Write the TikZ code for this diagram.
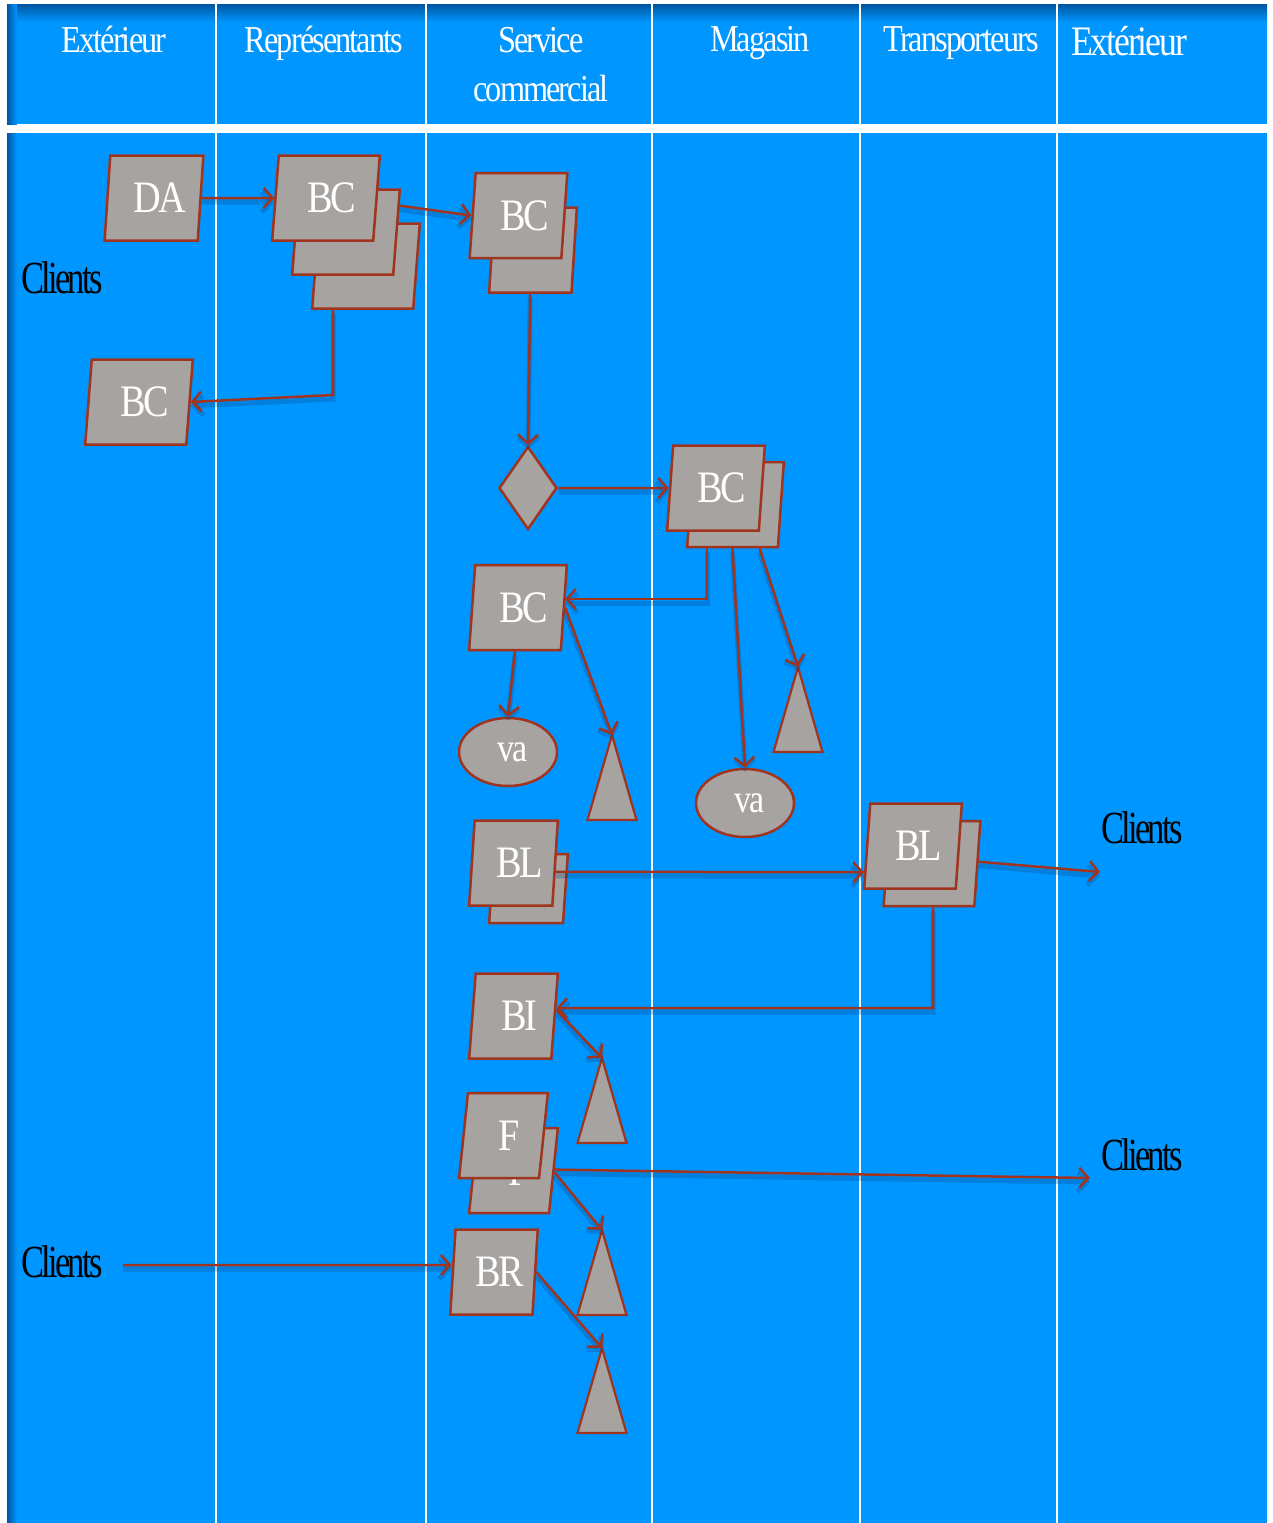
\documentclass[tikz,border=0pt]{standalone}
\usepackage{fontspec}
\usetikzlibrary{shapes.geometric, arrows.meta, calc}
\newfontfamily\cf[FakeStretch=0.85,LetterSpace=-5]{Liberation Serif}
\newfontfamily\cfc[FakeStretch=0.75,LetterSpace=-6]{Liberation Serif}
\definecolor{bg}{RGB}{0,150,255}
\definecolor{bgdark}{RGB}{0,85,160}
\definecolor{cardgray}{RGB}{166,163,161}
\definecolor{edgered}{RGB}{160,52,30}
\definecolor{shadowblue}{RGB}{0,60,120}
\newcommand\mytri[1]{\draw[tri] (#1) -- ++(24.5,85) -- ++(-49,0) -- cycle;}
\begin{document}
\begin{tikzpicture}[x=1pt,y=-1pt,
  card/.style={trapezium, trapezium left angle=82, trapezium right angle=98,
    trapezium stretches=true, minimum height=85pt, minimum width=#1,
    fill=cardgray, draw=edgered, line width=2.5pt, inner sep=0pt, text=white,
    font=\cf\fontsize{45}{45}\selectfont, execute at begin node={\hspace*{12pt}}},
  card/.default=98pt,
  head/.style={text=white, anchor=base, inner sep=0pt, font=\cf\fontsize{38}{38}\selectfont},
  clients/.style={text=black, inner sep=0pt, font=\cfc\fontsize{46}{46}\selectfont},
  oval/.style={ellipse, minimum width=98pt, minimum height=68pt, inner sep=0pt,
    fill=cardgray, draw=edgered, line width=2.5pt, text=white,
    font=\cf\fontsize{40}{40}\selectfont, execute at begin node={\hspace*{10pt}}},
  tri/.style={fill=cardgray, draw=edgered, line width=2.2pt},
  arr/.style={draw=edgered, line width=2.5pt, -{Straight Barb[length=9pt,width=20pt]},
    preaction={draw=shadowblue, draw opacity=0.25, line width=5pt, transform canvas={yshift=-4pt}}},
  sep/.style={draw=white, line width=2pt}
]
\useasboundingbox (0,0) rectangle (1272,1523);
\fill[white] (0,0) rectangle (1272,1523);
% header and body
\fill[bg] (7,4) rectangle (1267,124);
\fill[bg] (7,133) rectangle (1267,1523);
\shade[top color=bgdark, bottom color=bg] (7,4) rectangle (1267,22);
\shade[left color=bgdark, right color=bg] (7,4) rectangle (17,124);
\shade[left color=bgdark, right color=bg] (7,133) rectangle (17,1523);
% separators
\foreach \x in {216,426,652,860,1057}{
  \draw[sep] (\x,4) -- (\x,124);
  \draw[sep] (\x,133) -- (\x,1523);
}
% headers
\node[head] (h1) at (114,52) {Extérieur};
\node[head] (h2) at (324,52) {Représentants};
\node[head] (h3a) at (541,52) {Service};
\node[head] (h3b) at (541,101) {commercial};
\node[head] (h4) at (760,51) {Magasin};
\node[head] (h5) at (961,51) {Transporteurs};
\node[head, font=\cf\fontsize{42}{42}\selectfont] (h6) at (1129,55) {Extérieur};
% clients
\node[clients] (cl1) at (62,278) {Clients};
\node[clients] (cl2) at (1142,828) {Clients};
\node[clients] (cl3) at (1142,1155) {Clients};
\node[clients] (cl4) at (62,1262) {Clients};
% cards
\node[card=99pt] (da) at (154,198) {DA};
\node[card=108pt] (bcR3) at (366,266) {\phantom{BC}};
\node[card=108pt] (bcR2) at (346,232) {\phantom{BC}};
\node[card=108pt] (bcR1) at (326,198) {BC};
\node[card=108pt] (bcC) at (139,402) {BC};
\node[card=88pt] (bcS2) at (533,250) {\phantom{BC}};
\node[card=98pt] (bcS1) at (518.5,215.5) {BC};
\node[diamond, minimum width=58pt, minimum height=83pt, inner sep=0pt,
  fill=cardgray, draw=edgered, line width=2.5pt] (dia) at (528,488) {};
\node[card=97pt] (bcM2) at (735.5,504.5) {\phantom{BC}};
\node[card=98pt] (bcM1) at (716,488) {BC};
\node[card=98pt] (bcS3) at (518,607.5) {BC};
\node[oval] (va1) at (508,752) {va};
\node[oval] (va2) at (745,803) {va};
\node[card=79pt, minimum height=69pt] (blS2) at (528.5,888.5) {\phantom{BL}};
\node[card=89pt] (blS1) at (513.5,863) {BL};
\node[card=97pt] (blT2) at (932,863.5) {\phantom{BL}};
\node[card=98pt] (blT1) at (913,846) {BL};
\node[card=89pt] (bi) at (513.5,1016) {BI};
\node[card=89pt] (f2) at (513.5,1170.5) {F};
\node[card=89pt] (f1) at (503.5,1135.5) {F};
\node[card=88pt] (br) at (494,1272) {BR};
% triangles
\coordinate (t1) at (612,735);
\coordinate (t2) at (798,667);
\coordinate (t3) at (602,1058);
\coordinate (t4) at (602,1230);
\coordinate (t5) at (602,1348);
\mytri{t1}\mytri{t2}\mytri{t3}\mytri{t4}\mytri{t5}
% helper coordinates
\coordinate (k1) at (333,395);
\coordinate (k2) at (707,599);
\coordinate (k3) at (933,1008);
\coordinate (e1) at (1100,872);
\coordinate (e2) at (1090,1178);
% connectors
\draw[arr] (da.east) -- (bcR1.west);
\draw[arr] ($(bcR2.top right corner)!0.2!(bcR2.bottom right corner)$) -- (bcS1.west);
\draw[arr] (bcR3.south -| k1) -- (k1) -- (bcC.east);
\draw[arr] ($(bcS2.bottom left corner)!0.5!(bcS2.bottom right corner)$) -- (dia.north);
\draw[arr] (dia.east) -- (bcM1.west);
\draw[arr] (bcM2.south -| k2) -- (k2) -- (k2 -| bcS3.east);
\draw[arr] ($(bcM2.bottom left corner)!0.5!(bcM2.bottom right corner)$) -- (va2.north);
\draw[arr] ($(bcM2.bottom left corner)!0.79!(bcM2.bottom right corner)$) -- (t2);
\draw[arr] ($(bcS3.bottom left corner)!0.5!(bcS3.bottom right corner)$) -- (va1.north);
\draw[arr] (bcS3.east) -- (t1);
\draw[arr] ($(blS1.top right corner)!0.6!(blS1.bottom right corner)$) -- ($(blT1.top left corner)!0.8!(blT1.bottom left corner)$);
\draw[arr] ($(blT2.top right corner)!0.48!(blT2.bottom right corner)$) -- (e1);
\draw[arr] (blT2.south -| k3) -- (k3) -- ($(bi.top right corner)!0.41!(bi.bottom right corner)$);
\draw[arr] ($(bi.top right corner)!0.43!(bi.bottom right corner)$) -- (t3);
\draw[arr] ($(f2.top right corner)!0.49!(f2.bottom right corner)$) -- (e2);
\draw[arr] ($(f2.top right corner)!0.52!(f2.bottom right corner)$) -- (t4);
\draw[arr, shorten <=20pt] ([yshift=-3pt]cl4.east) -- ([yshift=7pt]br.west);
\draw[arr] ($(br.top right corner)!0.5!(br.bottom right corner)$) -- (t5);
\end{tikzpicture}
\end{document}
